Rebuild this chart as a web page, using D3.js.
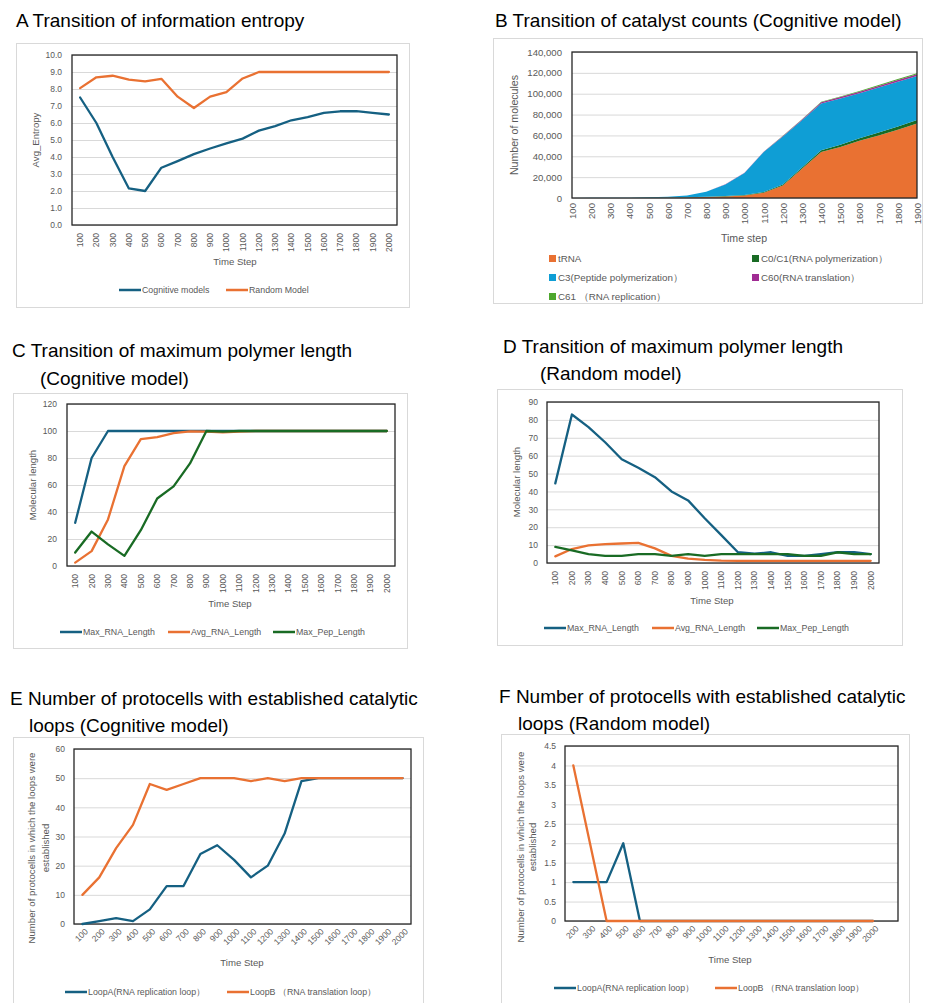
<!DOCTYPE html>
<html><head><meta charset="utf-8">
<script src="https://cdn.jsdelivr.net/npm/d3@7"></script>
<style>body{margin:0;background:#fff}svg{display:block;font-family:"Liberation Sans",Arial,sans-serif}</style>
</head><body><svg id="c" width="926" height="1003"></svg>
<script>
// ---------------- DATA ----------------
const steps20 = ["100","200","300","400","500","600","700","800","900","1000","1100","1200","1300","1400","1500","1600","1700","1800","1900","2000"];
const stepsB = ["100","200","300","400","500","600","700","800","900","1000","1100","1200","1300","1400","1500","1600","1700","1800","1900"];
const stepsF = ["200","300","400","500","600","700","800","900","1000","1100","1200","1300","1400","1500","1600","1700","1800","1900","2000",""];

// A
const entropyCognitive = [7.5,6.0,4.0,2.15,2.0,3.37,3.76,4.17,4.5,4.8,5.08,5.55,5.82,6.16,6.35,6.59,6.69,6.7,6.59,6.5];
const entropyRandom = [8.05,8.69,8.78,8.55,8.45,8.6,7.55,6.88,7.55,7.82,8.62,9.0,9.0,9.0,9.0,9.0,9.0,9.0,9.0,9.0];

// B (stacked)
const tRNA = [0,0,0,0,100,300,500,1000,1500,2500,5000,12000,28000,44000,49000,55000,60000,65500,71500];
const c0c1 = [0,0,0,0,50,100,150,200,300,400,700,1000,1300,1800,2000,2300,2700,3000,3300];
const c3   = [100,150,200,300,450,800,1850,4800,11200,21100,38300,46000,45200,44700,44500,43200,43300,43000,42200];
const c60  = [0,0,0,0,0,0,0,50,100,150,300,500,700,1200,1300,1400,1500,1600,1700];
const c61  = [0,0,0,0,0,0,0,0,50,100,150,200,300,500,600,700,800,900,1000];

// C
const maxRNA_C = [32,80,100,100,100,100,100,100,100,100,100,100,100,100,100,100,100,100,100,100];
const avgRNA_C = [2.5,11,34.5,74,94,95.5,98.5,99.7,99.5,99,99.5,100,100,100,100,100,100,100,100,100];
const maxPep_C = [10,25.5,16,7.5,26.5,50,59,76,100,99.5,100,100,100,100,100,100,100,100,100,100];

// D
const maxRNA_D = [44.5,83,76,67.5,58,53.3,48,40,35,25,15.6,6,5.2,6,4,4,5,6,6,5];
const avgRNA_D = [3.7,7.8,9.8,10.5,10.9,11.3,8.2,4,2.4,1.7,1.3,1.2,1.2,1.2,1.2,1.2,1.2,1.2,1.2,1.2];
const maxPep_D = [9,7,5,4,4,5,5,4,5,4,5,5,5,5,5,4,4,6,5,5];

// E
const loopA_E = [0,1,2,1,5,13,13,24,27,22,16,20,31,49,50,50,50,50,50,50];
const loopB_E = [10,16,26,34,48,46,48,50,50,50,49,50,49,50,50,50,50,50,50,50];

// F
const loopA_F = [1,1,1,2,0,0,0,0,0,0,0,0,0,0,0,0,0,0,0];
const loopB_F = [4,2,0,0,0,0,0,0,0,0,0,0,0,0,0,0,0,0,0];

// ---------------- STYLE ----------------
const COL = {teal:"#156082", orange:"#E97132", green:"#196B24", blue:"#0F9ED5", purple:"#A02B93", lgreen:"#4EA72E"};
const TXT = "#595959";
const svg = d3.select("#c");

function title(lines){
  lines.forEach(l=>svg.append("text").attr("x",l[0]).attr("y",l[1]).attr("font-size",19).attr("fill","#000").text(l[2]));
}

function frame(o){
  svg.append("rect").attr("x",o.box[0]+0.5).attr("y",o.box[1]+0.5).attr("width",o.box[2]).attr("height",o.box[3])
    .attr("fill","#fff").attr("stroke","#d9d9d9");
}

function axes(o, x, y){
  const [L,T,R,B] = o.plot;
  const tf = o.tickSize||8.5;
  // grid
  svg.append("g").attr("transform",`translate(${L},0)`)
    .call(d3.axisLeft(y).tickValues(o.yTicks).tickSize(-(R-L)).tickFormat(""))
    .call(a=>a.select(".domain").remove())
    .selectAll("line").attr("stroke","#d9d9d9").attr("stroke-width",1);
  // y labels
  svg.append("g").attr("transform",`translate(${o.yLabelRight},0)`)
    .call(d3.axisLeft(y).tickValues(o.yTicks).tickSize(0).tickPadding(0).tickFormat(o.yFmt))
    .call(a=>a.select(".domain").remove())
    .selectAll("text").attr("fill",TXT).attr("font-size",tf).attr("font-family","Liberation Sans, Arial, sans-serif");
  // x labels
  const xa = svg.append("g").attr("transform",`translate(0,${B})`)
    .call(d3.axisBottom(x).tickSize(0).tickPadding(0))
    .call(a=>a.select(".domain").remove());
  const xt = xa.selectAll("text").attr("fill",TXT).attr("font-size",tf).attr("font-family","Liberation Sans, Arial, sans-serif");
  if(o.rot===-45){
    xt.attr("text-anchor","end").attr("x",0).attr("y",0).attr("dy","0.35em")
      .attr("transform",`translate(4,${o.xLabOff}) rotate(-45)`);
  } else {
    xt.attr("text-anchor","end").attr("x",-o.xLabOff).attr("y",0).attr("dy","0.35em")
      .attr("transform","rotate(-90)");
  }
  // axis titles
  svg.append("text").attr("x",o.xTitle[0]).attr("y",o.xTitle[1]).attr("text-anchor","middle")
    .attr("font-size",o.xTitleSize||9.6).attr("fill",TXT).text(o.xTitleText);
  const yt = svg.append("text").attr("transform",`translate(${o.yTitle[0]},${o.yTitle[1]}) rotate(-90)`)
    .attr("text-anchor","middle").attr("font-size",o.yTitleSize||9.6).attr("fill",TXT);
  o.yTitleLines.forEach((t,i)=>yt.append("tspan").attr("x",0).attr("y",i*o.yTitleGap).text(t));
}

function border(o){
  const [L,T,R,B] = o.plot;
  svg.append("rect").attr("x",L).attr("y",T).attr("width",R-L).attr("height",B-T)
    .attr("fill","none").attr("stroke","#262626").attr("stroke-width",1.3);
}

function lineChart(o){
  frame(o);
  const [L,T,R,B] = o.plot;
  const x = d3.scaleBand().domain(o.cats).range([L,R]).padding(0);
  const y = d3.scaleLinear().domain(o.yDomain).range([B,T]);
  axes(o,x,y);
  border(o);
  const line = d3.line().x((d,i)=>x(o.cats[i])+x.bandwidth()/2).y(d=>y(d));
  o.series.forEach(s=>{
    svg.append("path").datum(s.values).attr("d",line).attr("fill","none")
      .attr("stroke",s.color).attr("stroke-width",2.3).attr("stroke-linejoin","round").attr("stroke-linecap","round");
  });
  // legend
  o.series.forEach((s,i)=>{
    const lx = o.legend.xs[i];
    svg.append("line").attr("x1",lx).attr("x2",lx+22).attr("y1",o.legend.y).attr("y2",o.legend.y)
      .attr("stroke",s.color).attr("stroke-width",2.5);
    svg.append("text").attr("x",lx+23).attr("y",o.legend.y).attr("dy","0.35em")
      .attr("font-size",o.legend.size||8.8).attr("fill",TXT).text(s.name);
  });
}

// ---------------- A ----------------
title([[16,27,"A Transition of information entropy"]]);
lineChart({
  box:[16,43,393,264], plot:[72,55,397,225], cats:steps20,
  yDomain:[0,10], yTicks:d3.range(0,10.01,1), yFmt:d3.format(".1f"), yLabelRight:62,
  xLabOff:8, xTitle:[235,265], xTitleText:"Time Step",
  yTitle:[39,140], yTitleLines:["Avg_Entropy"], yTitleGap:0,
  series:[{name:"Cognitive models",values:entropyCognitive,color:COL.teal},
          {name:"Random Model",values:entropyRandom,color:COL.orange}],
  legend:{y:290,xs:[119,226]}
});

// ---------------- B ----------------
title([[495,27,"B Transition of catalyst counts (Cognitive model)"]]);
(function(){
  const o = {
    box:[493,38,429,265], plot:[572,52,917,198], yTicks:d3.range(0,140001,20000), yFmt:d3.format(","),
    yLabelRight:562, xLabOff:5, xTitle:[744,242], xTitleText:"Time step", tickSize:9.6,
    xTitleSize:10.6, yTitleSize:10.6,
    yTitle:[518,125], yTitleLines:["Number of molecules"], yTitleGap:0
  };
  frame(o);
  const [L,T,R,B] = o.plot;
  const x = d3.scalePoint().domain(stepsB).range([L,R]).padding(0);
  const y = d3.scaleLinear().domain([0,140000]).range([B,T]);
  axes(o,x,y);
  const keys = ["tRNA","C0/C1(RNA polymerization）","C3(Peptide polymerization）","C60(RNA translation）","C61 （RNA replication）"];
  const vals = [tRNA,c0c1,c3,c60,c61];
  const cols = [COL.orange,COL.green,COL.blue,COL.purple,COL.lgreen];
  const rows = stepsB.map((s,i)=>{const r={step:s}; keys.forEach((k,j)=>r[k]=vals[j][i]); return r;});
  const stack = d3.stack().keys(keys)(rows);
  const area = d3.area().x(d=>x(d.data.step)).y0(d=>y(d[0])).y1(d=>y(d[1]));
  stack.forEach((s,j)=>svg.append("path").datum(s).attr("d",area).attr("fill",cols[j]));
  border(o);
  const lpos = [[549,259],[752,259],[549,278],[752,278],[549,297]];
  keys.forEach((k,j)=>{
    svg.append("rect").attr("x",lpos[j][0]).attr("y",lpos[j][1]-4).attr("width",7).attr("height",7).attr("fill",cols[j]);
    svg.append("text").attr("x",lpos[j][0]+9).attr("y",lpos[j][1]).attr("dy","0.35em").attr("font-size",9.8).attr("fill",TXT).text(k);
  });
})();

// ---------------- C ----------------
title([[12,357,"C Transition of maximum polymer length"],[40,385,"(Cognitive model)"]]);
lineChart({
  box:[13,393,394,255], plot:[67,404,395,566], cats:steps20,
  yDomain:[0,120], yTicks:d3.range(0,121,20), yFmt:d3.format("d"), yLabelRight:57,
  xLabOff:8, xTitle:[230,607], xTitleText:"Time Step",
  yTitle:[36,485], yTitleLines:["Molecular length"], yTitleGap:0,
  series:[{name:"Max_RNA_Length",values:maxRNA_C,color:COL.teal},
          {name:"Avg_RNA_Length",values:avgRNA_C,color:COL.orange},
          {name:"Max_Pep_Length",values:maxPep_C,color:COL.green}],
  legend:{y:632,xs:[60,168,273]}
});

// ---------------- D ----------------
title([[503,353,"D Transition of maximum polymer length"],[540,380,"(Random model)"]]);
lineChart({
  box:[497,389,405,256], plot:[547,402,879,563], cats:steps20,
  yDomain:[0,90], yTicks:d3.range(0,91,10), yFmt:d3.format("d"), yLabelRight:538,
  xLabOff:8, xTitle:[712,604], xTitleText:"Time Step",
  yTitle:[520,482], yTitleLines:["Molecular length"], yTitleGap:0,
  series:[{name:"Max_RNA_Length",values:maxRNA_D,color:COL.teal},
          {name:"Avg_RNA_Length",values:avgRNA_D,color:COL.orange},
          {name:"Max_Pep_Length",values:maxPep_D,color:COL.green}],
  legend:{y:628,xs:[544,652,757]}
});

// ---------------- E ----------------
title([[10,705,"E Number of protocells with established catalytic"],[29,732,"loops (Cognitive model)"]]);
lineChart({
  box:[13,737,410,280], plot:[74,749,411,924], cats:steps20, rot:-45,
  yDomain:[0,60], yTicks:d3.range(0,61,10), yFmt:d3.format("d"), yLabelRight:65,
  xLabOff:6, xTitle:[242,966], xTitleText:"Time Step",
  yTitle:[35,848], yTitleLines:["Number of protocells in which the loops were","established"], yTitleGap:14,
  series:[{name:"LoopA(RNA replication loop）",values:loopA_E,color:COL.teal},
          {name:"LoopB （RNA translation loop）",values:loopB_E,color:COL.orange}],
  legend:{y:992,xs:[65,227]}
});

// ---------------- F ----------------
title([[499,703,"F Number of protocells with established catalytic"],[518,730,"loops (Random model)"]]);
lineChart({
  box:[501,734,408,280], plot:[565,746,898,921], cats:stepsF, rot:-45,
  yDomain:[0,4.5], yTicks:d3.range(0,4.51,0.5), yFmt:d3.format("~g"), yLabelRight:556,
  xLabOff:6, xTitle:[730,963], xTitleText:"Time Step",
  yTitle:[524,847], yTitleLines:["Number of protocells in which the loops were","established"], yTitleGap:12,
  series:[{name:"LoopA(RNA replication loop）",values:loopA_F,color:COL.teal},
          {name:"LoopB （RNA translation loop）",values:loopB_F,color:COL.orange}],
  legend:{y:988,xs:[554,715]}
});
</script></body></html>
